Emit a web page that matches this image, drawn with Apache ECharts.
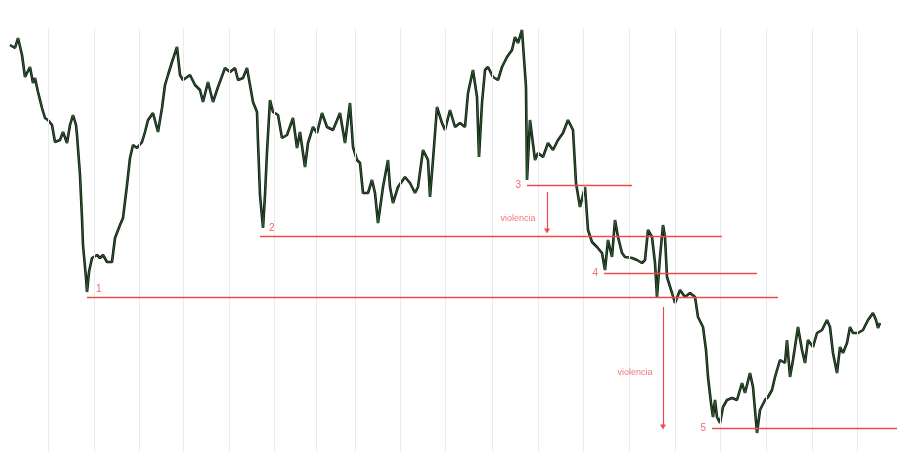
<!DOCTYPE html>
<html>
<head>
<meta charset="utf-8">
<script src="https://cdn.jsdelivr.net/npm/echarts@6/dist/echarts.min.js"></script>
<style>html,body{margin:0;padding:0;background:#fff}#chart{width:900px;height:464px}</style>
</head>
<body>
<div id="chart"></div>
<script>
// x: session position, y: price (arbitrary units)
const days = [
10,15,18,22,25,30,33,35,38,42,
45,48,52,55,60,63,67,70,73,76,
77,80,82,83,86,87,89,92,97,100,
103,107,112,115,120,123,127,130,133,137,
142,145,148,150,153,158,162,165,168,172,
177,180,183,190,195,200,203,208,213,218,
225,230,235,238,243,247,250,253,257,258,
260,263,265,267,270,273,278,282,287,293,
297,300,305,308,313,317,322,327,333,340,
345,350,353,357,360,363,368,372,375,378,
383,388,390,393,398,405,410,415,418,423,
428,430,433,437,442,445,450,455,460,465,
468,473,477,479,482,485,488,493,498,502,
507,512,515,518,522,524,526,527,530,535,
538,543,548,553,558,563,568,573,576,580,
585,588,592,597,602,605,608,612,615,618,
622,625,632,637,642,645,648,652,655,657,
660,663,665,667,672,675,680,685,690,695,
698,703,706,708,711,713,715,717,720,723,
727,732,737,742,745,750,753,757,760,765,
768,772,775,780,785,787,790,793,798,802,
805,808,813,817,822,827,830,833,837,840,
843,847,850,853,858,863,868,873,876,878,
880];
const prices = [
455,452,462,445,423,433,417,422,408,392,
382,380,375,358,360,368,357,375,385,375,
365,325,282,255,222,208,228,242,245,242,
245,238,238,262,275,282,315,342,355,352,
358,368,380,382,387,368,392,415,425,438,
453,425,420,425,415,410,398,418,398,413,
432,428,432,420,422,432,415,398,388,358,
305,272,305,348,400,388,385,362,365,382,
352,368,333,357,373,367,387,373,370,387,
357,397,353,340,337,307,307,320,307,277,
313,340,313,297,313,323,317,307,313,350,
340,303,340,393,377,370,390,373,377,373,
407,430,403,343,397,430,433,423,420,433,
443,450,463,457,470,470,413,320,380,340,
347,343,357,350,360,367,380,370,317,293,
313,270,258,253,247,230,260,243,280,263,
247,243,242,240,237,240,270,263,237,203,
243,275,263,223,207,197,210,203,207,203,
183,173,150,123,97,83,100,83,77,93,
100,102,100,117,107,127,113,67,90,100,
103,110,123,140,137,160,123,140,173,150,
137,160,153,167,170,180,173,147,127,153,
147,157,173,167,167,170,180,187,180,172,
177];
const gridTicks = [48,94,139,183,229,274,316,355,400,445,492,538,583,629,675,720,766,812,857];
const levelNames = ['1','2','3','4','5'];
const levelPrices = [203,264,315,227,72];
const levelStart = [87,260,527,604,712];
const levelEnd = [778,722,632,757,897];
const levelLabelPos = ['insideStartTop','insideStartTop','start','start','start'];
const arrowDays = [547,663];
const arrowFrom = [308,193];
const arrowTo = [269,73];
const noteText = ['violencia','violencia'];
const noteDays = [518,635];
const notePrices = [281,127];

const pts = days.map((d,i)=>[d,prices[i]]);
const RED = '#ee4a4a';
const chart = echarts.init(document.getElementById('chart'));
chart.setOption({
  animation:false,
  grid:{left:0,right:0,top:28,bottom:12},
  xAxis:{type:'value',min:0,max:900,show:false,splitLine:{show:false}},
  yAxis:{type:'value',min:48,max:472,show:false,splitLine:{show:false}},
  series:[
    {type:'line',data:[],silent:true,z:1,
     markLine:{silent:true,symbol:['none','none'],label:{show:false},
       lineStyle:{color:'#ebebeb',width:1,type:'solid'},
       data:gridTicks.map(v=>({xAxis:v}))}},
    {type:'line',data:pts,showSymbol:false,z:3,
     lineStyle:{color:'#111a11',width:2.6}},
    {type:'line',data:pts,showSymbol:false,z:4,
     lineStyle:{color:'#3f8a46',width:0.8,opacity:0.75}},
    {type:'line',data:[],silent:true,z:5,
     markLine:{silent:true,symbol:['none','none'],
       lineStyle:{color:RED,width:1.3,type:'solid'},
       data:levelPrices.map((p,i)=>[
         {coord:[levelStart[i],p],label:{show:true,formatter:levelNames[i],position:levelLabelPos[i],color:'#f06a6a',fontSize:10,fontFamily:'Liberation Sans',distance:levelLabelPos[i]==='start'?6:[9,3]}},
         {coord:[levelEnd[i],p]}])}},
    {type:'line',data:[],silent:true,z:5,
     markLine:{silent:true,symbol:['none','triangle'],symbolSize:[6,5],label:{show:false},
       lineStyle:{color:RED,width:1.2,type:'solid'},
       data:arrowDays.map((d,i)=>[{coord:[d,arrowFrom[i]]},{coord:[d,arrowTo[i]]}])}},
    {type:'scatter',symbolSize:0,silent:true,z:6,
     data:noteDays.map((d,i)=>({value:[d,notePrices[i]],name:noteText[i]})),
     label:{show:true,position:'inside',formatter:p=>p.name,color:'#ee5555',fontSize:9,fontFamily:'Liberation Sans'}}
  ]
});
</script>
</body>
</html>
